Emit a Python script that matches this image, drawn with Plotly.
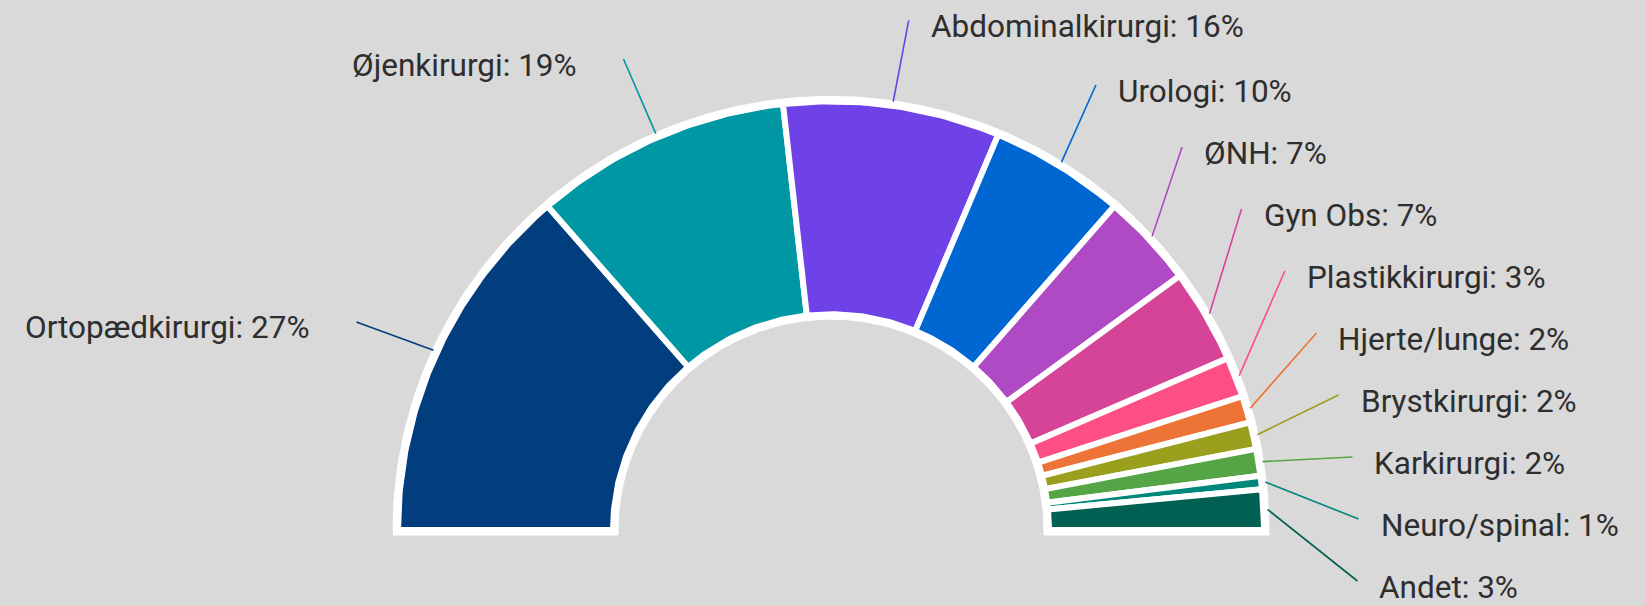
import math
import numpy as np
import plotly.graph_objects as go

# ---- data ----
categories = ["Ortopædkirurgi", "Øjenkirurgi", "Abdominalkirurgi", "Urologi", "ØNH",
              "Gyn Obs", "Plastikkirurgi", "Hjerte/lunge", "Brystkirurgi", "Karkirurgi",
              "Neuro/spinal", "Andet"]
values = [27, 19, 16, 10, 7, 7, 3, 2, 2, 2, 1, 3]
colors = ["#023d7d", "#0097a4", "#6f42e8", "#0066d1", "#b04ac4", "#d64497",
          "#fd4f84", "#ed7436", "#9a9f1e", "#55a445", "#00877b", "#006152"]

# ---- layout constants (pixel space) ----
W, H = 1645, 606
CX, CY = 831, 530          # centre of the half donut
SY = 0.99                  # slight vertical squash seen in the reference
R_OUT, R_IN = 433, 218     # slice polygon radii (white stroke trims them)
STROKE = 6
LX, LY, LR = 834, 540, 525  # label anchor circle
SPACING = 62.0
BG = "#d9d9d9"
FONT = "Roboto"


def pt(theta_deg, r, cx=CX, cy=CY, sy=SY):
    t = math.radians(theta_deg)
    return cx - r * math.cos(t), cy - sy * r * math.sin(t)


total = float(sum(values))
bounds = np.concatenate([[0], np.cumsum(values)]) / total * 180.0

fig = go.Figure()

# white backing ring (outer outline)
ro, ri, ext = R_OUT + 5, R_IN - 5, 5
ang = np.linspace(0, 180, 241)
bx = [pt(a, ro)[0] for a in ang] + [CX + ro, CX + ri] + [pt(a, ri)[0] for a in ang[::-1]] + [CX - ri, CX - ro]
by = [pt(a, ro)[1] for a in ang] + [CY + ext, CY + ext] + [pt(a, ri)[1] for a in ang[::-1]] + [CY + ext, CY + ext]
fig.add_trace(go.Scatter(x=bx, y=by, fill="toself", fillcolor="white", mode="lines",
                         line=dict(color="white", width=1), hoverinfo="skip", showlegend=False))

# slices
for i, (cat, v, c) in enumerate(zip(categories, values, colors)):
    a0, a1 = bounds[i], bounds[i + 1]
    n = max(3, int((a1 - a0) * 2) + 2)
    aa = np.linspace(a0, a1, n)
    xs = [pt(a, R_OUT)[0] for a in aa] + [pt(a, R_IN)[0] for a in aa[::-1]]
    ys = [pt(a, R_OUT)[1] for a in aa] + [pt(a, R_IN)[1] for a in aa[::-1]]
    xs.append(xs[0]); ys.append(ys[0])
    fig.add_trace(go.Scatter(x=xs, y=ys, fill="toself", fillcolor=c, mode="lines",
                             line=dict(color="white", width=STROKE),
                             name=cat, hovertemplate=f"{cat}: {v}%<extra></extra>",
                             showlegend=False))

# label positions
mids = [(bounds[i] + bounds[i + 1]) / 2 for i in range(len(values))]
natural = [LY - LR * math.sin(math.radians(m)) for m in mids]
right = [i for i, m in enumerate(mids) if m >= 90]
left = [i for i, m in enumerate(mids) if m < 90]


def distribute(idx, lo, hi, S):
    idx = sorted(idx, key=lambda i: natural[i])
    clusters = [[i] for i in idx]

    def place(cl):
        n = len(cl)
        m = sum(natural[i] for i in cl) / n
        top = m - (n - 1) * S / 2
        top = min(top, hi - (n - 1) * S)
        top = max(top, lo)
        return top

    while True:
        tops = [place(c) for c in clusters]
        merged = False
        for k in range(len(clusters) - 1):
            bottom = tops[k] + (len(clusters[k]) - 1) * S
            if tops[k + 1] < bottom + S - 1e-9:
                clusters[k] = clusters[k] + clusters[k + 1]
                del clusters[k + 1]
                merged = True
                break
        if not merged:
            break
    pos = {}
    for c, t in zip(clusters, [place(c) for c in clusters]):
        for j, i in enumerate(c):
            pos[i] = t + j * S
    return pos


ypos = distribute(right, 10, 581, SPACING)
for i in left:
    ypos[i] = natural[i]

annotations = []
for i in range(len(values)):
    ay = ypos[i]
    dx = math.sqrt(max(LR ** 2 - (ay - LY) ** 2, 0))
    is_right = i in right
    ax = LX + dx if is_right else LX - dx
    sx, sy = pt(mids[i], R_OUT + 4)
    fig.add_trace(go.Scatter(x=[sx, ax], y=[sy, ay], mode="lines",
                             line=dict(color=colors[i], width=1.6),
                             hoverinfo="skip", showlegend=False))
    annotations.append(dict(
        x=ax + 20 if is_right else ax - 45, y=ay + 6, xref="x", yref="y",
        text=f"{categories[i]}: {values[i]}%", showarrow=False,
        xanchor="left" if is_right else "right", yanchor="middle",
        font=dict(family=FONT, size=31.5, color="#2e2e2e")))

fig.update_layout(
    width=W, height=H,
    margin=dict(l=0, r=0, t=0, b=0),
    paper_bgcolor=BG, plot_bgcolor=BG,
    xaxis=dict(range=[0, W], visible=False, fixedrange=True),
    yaxis=dict(range=[H, 0], visible=False, fixedrange=True),
    annotations=annotations,
    showlegend=False,
)

fig.write_html(
    "out.html",
    config={"displayModeBar": False},
    post_script="document.body.style.margin='0';document.body.style.background='%s';"
                "document.body.style.overflow='hidden';" % BG,
)
